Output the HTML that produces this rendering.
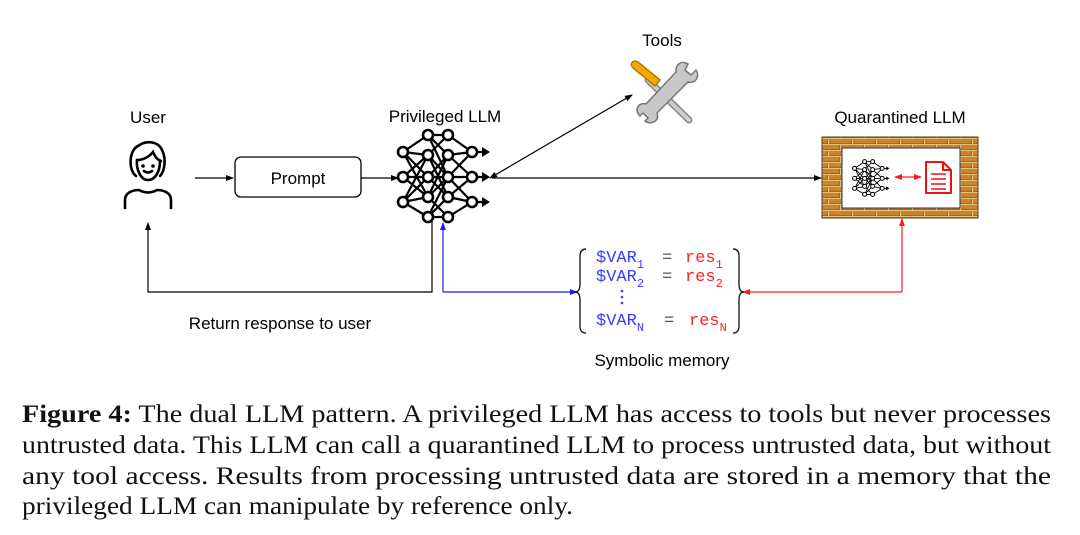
<!DOCTYPE html>
<html><head><meta charset="utf-8"><style>
html,body{margin:0;padding:0;background:#fff;}
svg{display:block;}
.s{font-family:"Liberation Sans",sans-serif;font-size:17px;fill:#000;}
.m{font-family:"Liberation Mono",monospace;font-size:17px;}
.c{font-family:"Liberation Serif",serif;font-size:25px;fill:#111;}
</style></head><body>
<svg width="1080" height="535" viewBox="0 0 1080 535" xmlns="http://www.w3.org/2000/svg">
<defs>
<marker id="ak" markerWidth="8" markerHeight="8" refX="7" refY="4" orient="auto" markerUnits="userSpaceOnUse"><path d="M0,1 L8,4 L0,7 z" fill="#000"/></marker>
<marker id="ab" markerWidth="8" markerHeight="8" refX="7" refY="4" orient="auto" markerUnits="userSpaceOnUse"><path d="M0,1 L8,4 L0,7 z" fill="#1a1aff"/></marker>
<marker id="ar" markerWidth="8" markerHeight="8" refX="7" refY="4" orient="auto-start-reverse" markerUnits="userSpaceOnUse"><path d="M0,1 L8,4 L0,7 z" fill="#ff1a1a"/></marker>
<pattern id="brick" width="24" height="12" patternUnits="userSpaceOnUse">
<rect width="24" height="12" fill="#a8661f"/>
<rect x="1" y="1" width="22" height="4" fill="#c8832c"/>
<rect x="-11" y="7" width="22" height="4" fill="#c8832c"/><rect x="13" y="7" width="22" height="4" fill="#c8832c"/>
<path d="M0,0.5H24M0,6.5H24M0.5,0V6M12.5,6V12" stroke="#e2c27e" stroke-width="1"/>
</pattern>
<g id="nn" stroke="#000" stroke-width="2.2" fill="none">
<path d="M403 152L428 135M403 152L428 155M403 152L428 177M403 152L428 197M403 177L428 155M403 177L428 177M403 177L428 197M403 202L428 155M403 202L428 177M403 202L428 197M403 202L428 217
M428 135L448 135M428 135L448 155M428 135L448 177M428 155L448 135M428 155L448 177M428 155L448 197M428 177L448 155M428 177L448 177M428 177L448 197M428 197L448 155M428 197L448 177M428 197L448 217M428 217L448 177M428 217L448 197M428 217L448 217
M448 135L472 152M448 155L472 152M448 177L472 152M448 155L472 177M448 177L472 177M448 197L472 177M448 177L472 202M448 197L472 202M448 217L472 202
M472 152H484M472 177H484M472 202H484"/>
<path d="M482 147L490 152L482 157zM482 172L490 177L482 182zM482 197L490 202L482 207z" fill="#000" stroke="none"/>
<g fill="#fff" stroke-width="2.6">
<circle cx="403" cy="152" r="5"/><circle cx="403" cy="177" r="5"/><circle cx="403" cy="202" r="5"/>
<circle cx="428" cy="135" r="5"/><circle cx="428" cy="155" r="5"/><circle cx="428" cy="177" r="5"/><circle cx="428" cy="197" r="5"/><circle cx="428" cy="217" r="5"/>
<circle cx="448" cy="135" r="5"/><circle cx="448" cy="155" r="5"/><circle cx="448" cy="177" r="5"/><circle cx="448" cy="197" r="5"/><circle cx="448" cy="217" r="5"/>
<circle cx="472" cy="152" r="5"/><circle cx="472" cy="177" r="5"/><circle cx="472" cy="202" r="5"/>
</g></g>
</defs>

<text class="s" x="662" y="46" text-anchor="middle">Tools</text>
<text class="s" x="148" y="123" text-anchor="middle">User</text>
<text class="s" x="445" y="122" text-anchor="middle">Privileged LLM</text>
<text class="s" x="900" y="123" text-anchor="middle">Quarantined LLM</text>

<g stroke="#000" stroke-width="2.6" fill="none" stroke-linecap="round">
<path d="M136 176 C128 170 129 150 138 146 C146 140 158 141 162 150 C167 160 164 172 160 176"/>
<path d="M137 160 C144 160 150 156 153 152 C155 157 158 160 161 161"/>
<path d="M137 160 C136 170 141 180 148 180 C155 180 160 172 160 161"/>
<path d="M144 171 Q148 174 152 171"/>
<path d="M125 208 V200 C125 193 132 190 139 190 Q148 195 157 190 C164 190 171 193 171 200 V208"/>
</g>
<circle cx="143" cy="166" r="1.8" fill="#000"/><circle cx="153" cy="166" r="1.8" fill="#000"/>

<line x1="195" y1="178" x2="233" y2="178" stroke="#000" stroke-width="1.2" marker-end="url(#ak)"/>
<rect x="235" y="157" width="126" height="40" rx="6" fill="#fff" stroke="#000" stroke-width="1.3"/>
<text class="s" x="298" y="184" text-anchor="middle">Prompt</text>
<line x1="361" y1="178" x2="398" y2="178" stroke="#000" stroke-width="1.2" marker-end="url(#ak)"/>

<use href="#nn"/>

<line x1="492" y1="178" x2="821" y2="178" stroke="#000" stroke-width="1.2" marker-end="url(#ak)"/>
<line x1="560" y1="137" x2="632" y2="95" stroke="#000" stroke-width="1.2" marker-end="url(#ak)"/>
<line x1="560" y1="137" x2="490" y2="178" stroke="#000" stroke-width="1.2" marker-end="url(#ak)"/>

<g>
<path d="M648 80 L689 120" stroke="#888" stroke-width="7" stroke-linecap="round"/>
<path d="M648 80 L689 120" stroke="#ccc" stroke-width="4" stroke-linecap="round"/>
<path d="M688 64 C682 60 675 64 676 72 L646 104 C638 102 634 110 640 116 L643 113 L648 118 L645 121 C652 126 660 120 657 113 L688 82 C696 84 700 76 696 70 L691 75 L685 70 Z" fill="#c8c8c8" stroke="#777" stroke-width="1.5"/>
<path d="M633 68 C629 64 633 59 638 62 L660 80 L655 86 Z" fill="#f5a800" stroke="#b87800" stroke-width="1.5"/>
</g>

<rect x="822" y="137" width="156" height="81" fill="url(#brick)" stroke="#5a3a10" stroke-width="1"/>
<rect x="842" y="148" width="118" height="60" fill="#fff" stroke="#333" stroke-width="1"/>
<use href="#nn" transform="translate(693.4 107.6) scale(0.4)"/>
<line x1="895" y1="177" x2="921" y2="177" stroke="#ff1a1a" stroke-width="1.2" marker-end="url(#ar)" marker-start="url(#ar)"/>
<g stroke="#ee1111" stroke-width="2" fill="#fff" stroke-linejoin="round">
<path d="M926 162 H943 L951 170 V193 H926 Z"/>
<path d="M943 162 V170 H951" fill="none"/>
<path d="M931 174H946M931 179H946M931 184H946M931 189H946" fill="none" stroke-width="1.6"/>
</g>

<polyline points="432,219 432,292 148,292 148,223" fill="none" stroke="#000" stroke-width="1.2" marker-end="url(#ak)"/>
<text class="s" x="280" y="329" text-anchor="middle">Return response to user</text>
<polyline points="443,292 443,223" fill="none" stroke="#1a1aff" stroke-width="1.2" marker-end="url(#ab)"/>
<polyline points="443,292 577,292" fill="none" stroke="#1a1aff" stroke-width="1.2" marker-end="url(#ab)"/>
<polyline points="902,292 902,219" fill="none" stroke="#ff1a1a" stroke-width="1.2" marker-end="url(#ar)"/>
<polyline points="902,292 743,292" fill="none" stroke="#ff1a1a" stroke-width="1.2" marker-end="url(#ar)"/>

<g stroke="#222" stroke-width="1.4" fill="none">
<path d="M586 249 Q580 249 580 256 V284 Q580 292 575 292 Q580 292 580 300 V326 Q580 333 586 333"/>
<path d="M733 249 Q739 249 739 256 V284 Q739 292 744 292 Q739 292 739 300 V326 Q739 333 733 333"/>
</g>
<g class="m">
<text x="596" y="262" fill="#3b3bff">$VAR<tspan font-size="12" dy="6">1</tspan></text>
<text x="662" y="262" fill="#555">=</text>
<text x="685" y="262" fill="#ff2222">res<tspan font-size="12" dy="6">1</tspan></text>
<text x="596" y="281" fill="#3b3bff">$VAR<tspan font-size="12" dy="6">2</tspan></text>
<text x="662" y="281" fill="#555">=</text>
<text x="685" y="281" fill="#ff2222">res<tspan font-size="12" dy="6">2</tspan></text>
<text x="596" y="325" fill="#3b3bff">$VAR<tspan font-size="12" dy="6">N</tspan></text>
<text x="664" y="325" fill="#555">=</text>
<text x="689" y="325" fill="#ff2222">res<tspan font-size="12" dy="6">N</tspan></text>
</g>
<g fill="#3b3bff"><circle cx="622" cy="291" r="1.3"/><circle cx="622" cy="297" r="1.3"/><circle cx="622" cy="303" r="1.3"/></g>
<text class="s" x="662" y="366" text-anchor="middle">Symbolic memory</text>

<text class="c" x="22" y="422" textLength="1029" lengthAdjust="spacingAndGlyphs"><tspan font-weight="bold">Figure 4:</tspan> The dual LLM pattern.  A privileged LLM has access to tools but never processes</text>
<text class="c" x="22" y="453" textLength="1029" lengthAdjust="spacingAndGlyphs">untrusted data. This LLM can call a quarantined LLM to process untrusted data, but without</text>
<text class="c" x="22" y="484" textLength="1029" lengthAdjust="spacingAndGlyphs">any tool access.  Results from processing untrusted data are stored in a memory that the</text>
<text class="c" x="22" y="514" textLength="551" lengthAdjust="spacingAndGlyphs">privileged LLM can manipulate by reference only.</text>
</svg>
</body></html>
